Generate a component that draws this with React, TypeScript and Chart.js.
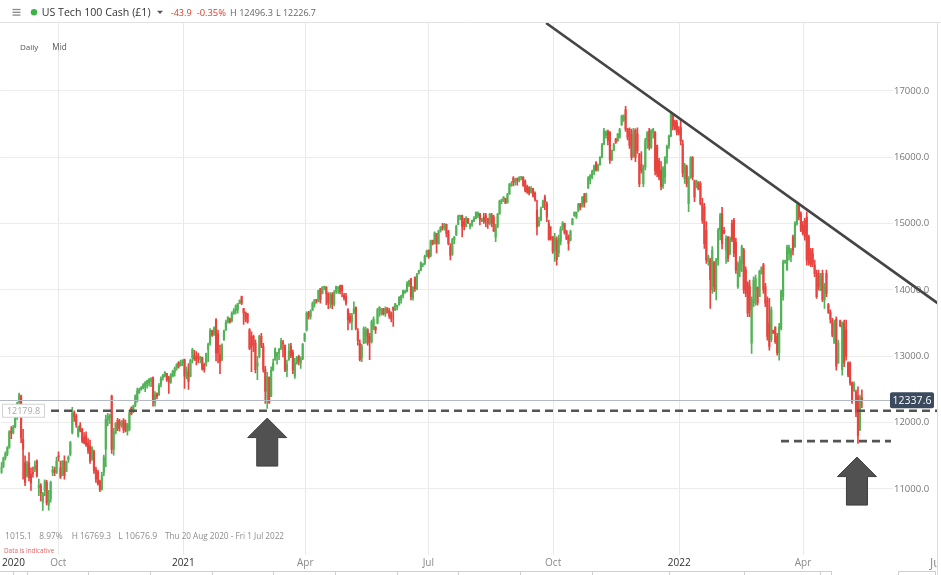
import React, { useEffect, useRef } from 'react';
import { Chart, registerables } from 'chart.js';

Chart.register(...registerables);

const FONT = '"Open Sans", "Noto Sans", sans-serif';
const GREEN = '#52b356';
const RED = '#e8433e';

// Daily candles, each row = [open, high, low, close]
const aug2020 = [
  [11250, 11400, 11235, 11330], [11340, 11480, 11320, 11460], [11470, 11560, 11440, 11530], [11530, 11640, 11500, 11620],
  [11630, 11880, 11610, 11860], [11870, 11940, 11760, 11840], [11850, 11960, 11830, 11930], [11940, 12100, 11920, 12080],
];
const sep2020 = [
  [12090, 12310, 12050, 12290], [12300, 12446, 12200, 12420], [12400, 12415, 11700, 11770], [11750, 11900, 11150, 11600],
  [11400, 11500, 11050, 11100], [11200, 11420, 11180, 11380], [11400, 11550, 11120, 11170], [11220, 11320, 10980, 11090],
  [11250, 11330, 11180, 11230], [11300, 11420, 11260, 11350], [11420, 11440, 11180, 11200], [11020, 11150, 10900, 11060],
  [11050, 11080, 10820, 10940], [10800, 10950, 10677, 10930], [10980, 11140, 10900, 11120], [11100, 11130, 10760, 10790],
  [10760, 10980, 10680, 10840], [10850, 11120, 10800, 11100], [11250, 11340, 11200, 11290], [11290, 11330, 11200, 11250],
  [11250, 11480, 11230, 11420],
];
const oct2020 = [
  [11500, 11560, 11420, 11480], [11320, 11420, 11160, 11180], [11220, 11430, 11200, 11420], [11420, 11500, 11150, 11200],
  [11270, 11420, 11260, 11400], [11440, 11500, 11400, 11480], [11520, 11720, 11500, 11700], [11850, 12230, 11830, 12150],
  [12150, 12180, 12020, 12090], [12100, 12130, 11930, 11970], [11800, 11950, 11780, 11920], [11960, 12000, 11860, 11880],
  [11900, 11913, 11700, 11720], [11780, 11850, 11680, 11700], [11800, 11863, 11640, 11660], [11700, 11760, 11536, 11580],
  [11650, 11737, 11385, 11420], [11450, 11640, 11430, 11620], [11560, 11587, 11235, 11280], [11290, 11330, 11100, 11150],
  [11260, 11285, 11059, 11080], [11120, 11134, 10958, 10990],
];
const nov2020 = [
  [11000, 11250, 10983, 11200], [11250, 11510, 11200, 11480], [11600, 12114, 11335, 12050], [12050, 12140, 11950, 12100],
  [12080, 12130, 11988, 12110], [12400, 12416, 11536, 11600], [11600, 11913, 11511, 11850], [11850, 12000, 11830, 11990],
  [12040, 12064, 11880, 11910], [12010, 12050, 11870, 11960], [11960, 12030, 11930, 12010], [12040, 12060, 11850, 11900],
  [11990, 12040, 11860, 11880], [11870, 11990, 11813, 11970], [11900, 12190, 11880, 12150], [12220, 12240, 12115, 12130],
  [12170, 12265, 12150, 12250], [12260, 12420, 12240, 12400], [12330, 12520, 12310, 12480], [12450, 12520, 12440, 12500],
];
const dec2020 = [
  [12500, 12545, 12490, 12530], [12520, 12590, 12510, 12570], [12540, 12620, 12466, 12600], [12580, 12642, 12520, 12630],
  [12600, 12667, 12550, 12650], [12630, 12680, 12541, 12660], [12680, 12690, 12250, 12340], [12300, 12470, 12250, 12420],
  [12440, 12450, 12360, 12390], [12420, 12590, 12410, 12560], [12580, 12690, 12540, 12660], [12680, 12730, 12640, 12710],
  [12700, 12770, 12690, 12760], [12740, 12745, 12620, 12650], [12680, 12700, 12440, 12610], [12610, 12740, 12590, 12720],
  [12700, 12790, 12690, 12770], [12760, 12840, 12700, 12820], [12830, 12890, 12790, 12880], [12910, 12920, 12820, 12850],
  [12860, 12945, 12850, 12900], [12900, 12950, 12860, 12940],
];
const jan2021 = [
  [12950, 12960, 12516, 12700], [12700, 12840, 12660, 12800], [12760, 12890, 12500, 12620], [12700, 12960, 12690, 12940],
  [12980, 13120, 12900, 13100], [13020, 13090, 12940, 12960], [12990, 13070, 12870, 12940], [13010, 13050, 12900, 12970],
  [12950, 13000, 12900, 12990], [12980, 12990, 12790, 12810], [12880, 12900, 12760, 12800], [12900, 13050, 12850, 13040],
  [13100, 13200, 12920, 13180], [13200, 13420, 13170, 13390], [13390, 13396, 13300, 13320], [13320, 13445, 13320, 13430],
  [13550, 13570, 12930, 13050], [13340, 13395, 12900, 13050], [13030, 13170, 12740, 12920],
];
const feb2021 = [
  [12950, 13190, 12930, 13170], [13250, 13395, 13240, 13380], [13400, 13547, 13390, 13510], [13520, 13597, 13500, 13590],
  [13570, 13575, 13500, 13520], [13530, 13670, 13520, 13650], [13650, 13720, 13630, 13690], [13690, 13775, 13640, 13760],
  [13700, 13800, 13650, 13790], [13800, 13850, 13795, 13845], [13900, 13909, 13780, 13800], [13720, 13723, 13480, 13650],
  [13660, 13672, 13520, 13560], [13640, 13647, 13500, 13520], [13400, 13420, 13100, 13120], [13300, 13371, 12770, 13150],
  [13300, 13320, 13070, 13170], [13200, 13250, 12750, 12800], [12850, 13000, 12650, 12900],
];
const mar2021 = [
  [13000, 13320, 12980, 13300], [13300, 13345, 13130, 13160], [13150, 13195, 12760, 12800], [12800, 12850, 12290, 12470],
  [12480, 12760, 12215, 12690], [12680, 12690, 12290, 12300], [12400, 12840, 12390, 12790], [12800, 12960, 12780, 12900],
  [12950, 13130, 12940, 13110], [13000, 13060, 12880, 13050], [13050, 13120, 12950, 13100], [13120, 13270, 13100, 13230],
  [13200, 13240, 12990, 13190], [13170, 13170, 12770, 12790], [12790, 12943, 12692, 12880], [12950, 13190, 12940, 13080],
  [13150, 13195, 12980, 13010], [13060, 13094, 12740, 12790], [12700, 12968, 12667, 12900], [12900, 13000, 12880, 12980],
  [13000, 13020, 12870, 12930], [12900, 12994, 12817, 12960], [12960, 13195, 12950, 13180],
];
const apr2021 = [
  [13240, 13350, 13220, 13340], [13400, 13672, 13380, 13650], [13660, 13680, 13560, 13600], [13600, 13700, 13560, 13680],
  [13700, 13820, 13690, 13800], [13790, 13860, 13740, 13850], [13840, 13860, 13800, 13835], [13830, 14000, 13820, 13990],
  [14020, 14024, 13800, 13860], [13950, 14050, 13940, 14040], [14040, 14060, 14000, 14050], [14040, 14050, 13780, 13950],
  [13950, 13960, 13720, 13800], [13800, 13960, 13730, 13930], [13930, 13960, 13720, 13780], [13790, 13990, 13760, 13960],
  [13980, 14060, 13950, 14050], [14020, 14050, 13950, 14040], [14060, 14074, 13940, 13970], [14070, 14074, 13900, 13990],
  [13920, 13950, 13848, 13880],
];
const may2021 = [
  [13900, 13950, 13770, 13800], [13700, 13720, 13400, 13550], [13600, 13650, 13500, 13530], [13520, 13650, 13400, 13620],
  [13660, 13820, 13640, 13720], [13740, 13748, 13400, 13420], [13380, 13420, 13170, 13240], [13200, 13250, 12930, 12950],
  [12980, 13180, 12918, 13150], [13200, 13446, 13190, 13420], [13300, 13440, 13200, 13400], [13400, 13420, 13170, 13200],
  [13300, 13345, 12950, 13220], [13220, 13547, 13200, 13520], [13420, 13597, 13400, 13560], [13440, 13450, 13345, 13400],
  [13500, 13723, 13490, 13700], [13700, 13750, 13600, 13740], [13640, 13723, 13620, 13710], [13720, 13723, 13620, 13640],
];
const jun2021 = [
  [13640, 13748, 13600, 13720], [13730, 13730, 13650, 13660], [13680, 13720, 13570, 13600], [13640, 13670, 13520, 13560],
  [13740, 13748, 13450, 13700], [13700, 13800, 13690, 13790], [13750, 13773, 13700, 13770], [13780, 13899, 13770, 13890],
  [13850, 13924, 13800, 13910], [13920, 14000, 13880, 13990], [13960, 14000, 13950, 13980], [13980, 14125, 13970, 14100],
  [14080, 14150, 14050, 14140], [14170, 14175, 13850, 13900], [13880, 14050, 13848, 14040], [14190, 14200, 13980, 14020],
  [14020, 14250, 14000, 14230], [14260, 14300, 14240, 14290], [14300, 14426, 14290, 14410], [14380, 14400, 14350, 14390],
  [14400, 14527, 14380, 14510], [14510, 14602, 14500, 14590],
];
const jul2021 = [
  [14600, 14602, 14477, 14500], [14520, 14753, 14500, 14740], [14750, 14753, 14680, 14700], [14700, 14878, 14690, 14860],
  [14850, 14853, 14560, 14700], [14700, 14903, 14690, 14880], [14890, 14955, 14870, 14940], [14960, 15005, 14900, 14930],
  [14940, 15005, 14900, 14990], [14990, 14995, 14800, 14850], [14880, 14900, 14680, 14700], [14650, 14700, 14452, 14520],
  [14540, 14780, 14520, 14760], [14760, 14804, 14700, 14800], [14830, 14980, 14820, 14960], [14990, 15130, 14980, 15110],
  [15110, 15130, 15060, 15120], [15120, 15130, 14800, 14960], [15040, 15080, 14904, 14960], [14960, 15105, 14950, 15080],
  [15080, 15080, 15000, 15010],
];
const aug2021 = [
  [14960, 15005, 14920, 14990], [14990, 15055, 14960, 15050], [15040, 15105, 15030, 15080], [15080, 15180, 15070, 15170],
  [15120, 15180, 15090, 15160], [15150, 15156, 14980, 15060], [15040, 15080, 15030, 15070], [15100, 15156, 15005, 15030],
  [15120, 15156, 14955, 15090], [15080, 15080, 14930, 15000], [15000, 15156, 14980, 15140], [15120, 15156, 14955, 15000],
  [15100, 15130, 14880, 14890], [14800, 14990, 14728, 14950], [14960, 15156, 14940, 15140], [15150, 15357, 15140, 15340],
  [15340, 15370, 15300, 15360], [15360, 15407, 15330, 15400], [15380, 15382, 15300, 15310], [15320, 15457, 15310, 15440],
  [15450, 15608, 15440, 15590], [15580, 15633, 15560, 15600],
];
const sep2021 = [
  [15690, 15709, 15570, 15620], [15620, 15683, 15580, 15660], [15680, 15690, 15580, 15650], [15650, 15709, 15630, 15690],
  [15690, 15712, 15660, 15700], [15700, 15709, 15560, 15580], [15640, 15660, 15480, 15500], [15560, 15583, 15457, 15480],
  [15540, 15558, 15432, 15460], [15470, 15558, 15460, 15540], [15530, 15533, 15400, 15420], [15460, 15480, 15340, 15360],
  [15200, 15357, 14830, 14950], [14980, 15100, 14960, 15040], [15060, 15250, 15040, 15220], [15250, 15357, 15240, 15340],
  [15400, 15432, 15210, 15330], [15300, 15330, 15030, 15100], [15000, 15050, 14750, 14760], [14800, 14955, 14750, 14780],
  [14800, 14804, 14550, 14580],
];
const oct2021 = [
  [14600, 14854, 14430, 14780], [14750, 14800, 14376, 14460], [14560, 14829, 14502, 14780], [14730, 14955, 14680, 14920],
  [14950, 15030, 14900, 15010], [15000, 15010, 14840, 14860], [14880, 14900, 14760, 14770], [14800, 14830, 14600, 14700],
  [14750, 14905, 14740, 14880], [14990, 15080, 14980, 15070], [15120, 15180, 15110, 15170], [15100, 15180, 15080, 15170],
  [15200, 15306, 15180, 15290], [15300, 15306, 15206, 15250], [15260, 15407, 15250, 15400], [15420, 15457, 15250, 15300],
  [15330, 15460, 15320, 15450],
];
const nov2021 = [
  [15540, 15710, 15530, 15690], [15650, 15740, 15600, 15720], [15700, 15809, 15680, 15790], [15790, 15884, 15740, 15870],
  [15920, 15935, 15790, 15810], [15810, 15900, 15790, 15880], [15890, 16010, 15880, 16000], [16000, 16211, 15990, 16190],
  [16200, 16437, 16190, 16400], [16330, 16400, 16290, 16380], [16400, 16412, 16186, 16250], [16380, 16387, 15910, 15960],
  [15960, 16110, 15950, 16100], [16110, 16211, 16100, 16190], [16280, 16287, 16210, 16220], [16250, 16362, 16240, 16350],
  [16300, 16437, 16290, 16420], [16490, 16638, 16480, 16620], [16560, 16640, 16540, 16630], [16720, 16769, 16390, 16420],
  [16430, 16437, 16261, 16300], [16420, 16445, 16136, 16180], [16350, 16425, 15960, 16000],
];
const dec2021 = [
  [16020, 16437, 16000, 16400], [16410, 16430, 15935, 16000], [16350, 16445, 16060, 16100], [16050, 16060, 15558, 15600],
  [15900, 16085, 15760, 15800], [15600, 15884, 15558, 15850], [15850, 16286, 15809, 16250], [16250, 16387, 16136, 16370],
  [16400, 16437, 16110, 16150], [16150, 16420, 16136, 16400], [16380, 16437, 16287, 16420], [16380, 16387, 15734, 15800],
  [16180, 16186, 15708, 15750], [15950, 15985, 15658, 15700], [15800, 15935, 15507, 15560], [15560, 15859, 15532, 15840],
  [15700, 16010, 15608, 15990], [16000, 16186, 15910, 16170], [16180, 16337, 16136, 16320], [16320, 16663, 16312, 16650],
  [16630, 16638, 16412, 16470], [16540, 16563, 16412, 16430], [16520, 16563, 16337, 16380], [16420, 16462, 16337, 16350],
  [16450, 16563, 16186, 16250],
];
const jan2022 = [
  [16200, 16261, 15708, 15760], [15680, 15910, 15608, 15880], [15860, 15884, 15558, 15600], [15300, 15708, 15180, 15680],
  [15700, 16010, 15683, 15990], [16000, 16010, 15658, 15700], [15650, 15658, 15331, 15400], [15550, 15658, 15540, 15640],
  [15620, 15633, 15507, 15520], [15600, 15633, 15281, 15300], [15300, 15382, 15005, 15050], [15250, 15306, 14628, 14700],
  [14900, 15030, 14401, 14450], [14430, 14527, 14376, 14500], [14450, 14477, 13723, 14150], [14000, 14653, 13949, 14600],
  [14420, 14427, 13974, 14050], [14000, 14477, 13849, 14450], [14450, 14929, 14376, 14900], [14900, 15155, 14754, 15120],
];
const feb2022 = [
  [15150, 15248, 14620, 14700], [14900, 14946, 14845, 14860], [14600, 14820, 14400, 14780], [14800, 14804, 14427, 14480],
  [14550, 14803, 14527, 14780], [15000, 15055, 14728, 14760], [15050, 15080, 14502, 14550], [14720, 14778, 14250, 14300],
  [14050, 14426, 14024, 14400], [14300, 14502, 14200, 14450], [14400, 14678, 14275, 14650], [14600, 14628, 13949, 14000],
  [14300, 14351, 13898, 13950], [14100, 14125, 13597, 13650], [14050, 14150, 13597, 13700], [13200, 13898, 13044, 13850],
  [13800, 14200, 13748, 14150], [14000, 14225, 13773, 14180], [14040, 14049, 13773, 13800], [13900, 14300, 13898, 14280],
  [14250, 14351, 14240, 14340],
];
const mar2022 = [
  [14380, 14401, 13949, 14000], [14050, 14100, 13748, 13800], [13850, 13898, 13245, 13300], [13500, 13873, 13094, 13150],
  [13250, 13748, 13220, 13700], [13390, 13396, 13345, 13350], [13440, 13446, 13195, 13220], [13300, 13345, 13019, 13050],
  [13050, 13496, 12943, 13450], [13420, 13999, 13400, 13980], [13900, 14451, 13848, 14420], [14420, 14451, 14401, 14440],
  [14300, 14678, 14300, 14650], [14550, 14678, 14451, 14640], [14500, 14628, 14426, 14600], [14800, 14829, 14527, 14600],
  [14650, 15030, 14640, 15000], [15000, 15306, 14979, 15280], [15280, 15281, 15055, 15100], [15150, 15180, 14879, 14900],
  [14980, 15030, 14829, 14850], [15050, 15080, 14753, 14800],
];
const apr2022 = [
  [15100, 15180, 14376, 14450], [14800, 14829, 14376, 14400], [14600, 14627, 14351, 14380], [14550, 14627, 14351, 14400],
  [14380, 14450, 14200, 14250], [14250, 14300, 13873, 13900], [14250, 14300, 13999, 14050], [14000, 14250, 13990, 14220],
  [14250, 14300, 13823, 13850], [13850, 14099, 13722, 14050], [14250, 14300, 13898, 13950], [13780, 13798, 13647, 13660],
  [13660, 13700, 13500, 13560], [13550, 13572, 13295, 13320], [13200, 13547, 13195, 13500], [13560, 13597, 12793, 12850],
  [12900, 13245, 12893, 13200], [13540, 13547, 13446, 13460], [12800, 13521, 12717, 13500], [13500, 13547, 12843, 12900],
];
const may2022 = [
  [13400, 13547, 12943, 13000], [12900, 12918, 12692, 12720], [12900, 12918, 12566, 12600], [12600, 12617, 12290, 12320],
  [12480, 12617, 12470, 12590], [12460, 12491, 12089, 12150], [12400, 12541, 11687, 11800], [11900, 12416, 11880, 12380],
  [12380, 12496, 12227, 12338],
];

const candles = [
  ...aug2020, ...sep2020, ...oct2020, ...nov2020, ...dec2020,
  ...jan2021, ...feb2021, ...mar2021, ...apr2021, ...may2021, ...jun2021,
  ...jul2021, ...aug2021, ...sep2021, ...oct2021, ...nov2021, ...dec2021,
  ...jan2022, ...feb2022, ...mar2022, ...apr2022, ...may2022,
];

// x-axis ticks (positions in candle-index space) and their labels
const tickIndex = [6.1, 28.9, 92.4, 154.3, 216.8, 280.2, 344.2, 407.1];
const tickLabels = ['2020', 'Oct', '2021', 'Apr', 'Jul', 'Oct', '2022', 'Apr'];
const priceTicks = [11000, 12000, 13000, 14000, 15000, 16000, 17000];

const lastPrice = 12337.6;
const supportPrice = 12179.8;
const lowPrice = 11722;
const trendIdx = [276.6, 475.6];
const trendVal = [18025, 13798];
const arrowIdx = [135, 434.5];
const arrowVal = [12069, 11481];

const X_MIN = -0.508;
const X_MAX = 452.8;
const Y_MIN = 10005;
const Y_MAX = 18025;

const isYear = (i: number) => /^\d{4}$/.test(tickLabels[i] || '');

function fitText(ctx: any, s: string, x: number, y: number, size: number, width: number, color: string, weight = '400') {
  ctx.font = `${weight} ${size}px ${FONT}`;
  const w = ctx.measureText(s).width;
  let sz = size * (width / w);
  sz = Math.max(size * 0.8, Math.min(size * 1.2, sz));
  ctx.font = `${weight} ${sz}px ${FONT}`;
  ctx.fillStyle = color;
  ctx.textAlign = 'left';
  ctx.textBaseline = 'alphabetic';
  ctx.fillText(s, x, y);
}

function drawArrow(ctx: any, cx: number, tipY: number) {
  const hw = 19.5, hh = 19.5, sw = 10.5, sl = 28.5;
  ctx.beginPath();
  ctx.moveTo(cx, tipY);
  ctx.lineTo(cx + hw, tipY + hh);
  ctx.lineTo(cx + sw, tipY + hh);
  ctx.lineTo(cx + sw, tipY + hh + sl);
  ctx.lineTo(cx - sw, tipY + hh + sl);
  ctx.lineTo(cx - sw, tipY + hh);
  ctx.lineTo(cx - hw, tipY + hh);
  ctx.closePath();
  ctx.fillStyle = '#515151';
  ctx.fill();
  ctx.strokeStyle = '#3e3e3e';
  ctx.lineWidth = 1;
  ctx.stroke();
}

const overlay = {
  id: 'overlay',
  afterDatasetsDraw(chart: any) {
    const { ctx, chartArea } = chart;
    const xs = chart.scales.x;
    const ys = chart.scales.y;
    ctx.save();

    // last price line
    const yLast = Math.round(ys.getPixelForValue(lastPrice)) + 0.5;
    ctx.strokeStyle = '#b4bac3';
    ctx.lineWidth = 1;
    ctx.beginPath();
    ctx.moveTo(0, yLast);
    ctx.lineTo(890, yLast);
    ctx.stroke();

    // dashed support lines
    ctx.strokeStyle = '#545454';
    ctx.lineWidth = 2.6;
    ctx.setLineDash([8, 5]);
    const ySup = ys.getPixelForValue(supportPrice);
    ctx.beginPath();
    ctx.moveTo(51, ySup);
    ctx.lineTo(937, ySup);
    ctx.stroke();
    const yLow = ys.getPixelForValue(lowPrice);
    ctx.beginPath();
    ctx.moveTo(781, yLow);
    ctx.lineTo(891, yLow);
    ctx.stroke();
    ctx.setLineDash([]);

    // trend line
    ctx.save();
    ctx.beginPath();
    ctx.rect(0, chartArea.top, 938, chartArea.bottom - chartArea.top);
    ctx.clip();
    ctx.strokeStyle = '#454545';
    ctx.lineWidth = 2.6;
    ctx.beginPath();
    ctx.moveTo(xs.getPixelForValue(trendIdx[0]), ys.getPixelForValue(trendVal[0]));
    ctx.lineTo(xs.getPixelForValue(trendIdx[1]), ys.getPixelForValue(trendVal[1]));
    ctx.stroke();
    ctx.restore();

    // arrows
    for (let k = 0; k < arrowIdx.length; k++) {
      drawArrow(ctx, xs.getPixelForValue(arrowIdx[k]), ys.getPixelForValue(arrowVal[k]));
    }
    ctx.restore();
  },
  afterDraw(chart: any) {
    const { ctx } = chart;
    const ys = chart.scales.y;
    ctx.save();

    // header
    ctx.strokeStyle = '#e2e2e2';
    ctx.lineWidth = 1;
    ctx.beginPath();
    ctx.moveTo(0, 22.5);
    ctx.lineTo(941, 22.5);
    ctx.stroke();
    ctx.strokeStyle = '#8a8a8a';
    ctx.lineWidth = 1.3;
    for (const yy of [9.5, 12.3, 15.1]) {
      ctx.beginPath();
      ctx.moveTo(12.5, yy);
      ctx.lineTo(20.5, yy);
      ctx.stroke();
    }
    ctx.fillStyle = '#3fb24a';
    ctx.beginPath();
    ctx.arc(34, 12.3, 3.2, 0, Math.PI * 2);
    ctx.fill();
    fitText(ctx, 'US Tech 100 Cash (£1)', 41.7, 16, 11, 109, '#333333', '500');
    ctx.fillStyle = '#555';
    ctx.beginPath();
    ctx.moveTo(157, 10.8);
    ctx.lineTo(163, 10.8);
    ctx.lineTo(160, 14);
    ctx.closePath();
    ctx.fill();
    fitText(ctx, '-43.9', 170.7, 16, 11, 21, '#e0392b');
    fitText(ctx, '-0.35%', 196.7, 16, 11, 29.3, '#e0392b');
    fitText(ctx, 'H 12496.3', 230, 16, 11, 43, '#666666');
    fitText(ctx, 'L 12226.7', 276, 16, 11, 40, '#666666');

    fitText(ctx, 'Daily', 20, 50, 10, 18.3, '#555555');
    fitText(ctx, 'Mid', 52.3, 50, 10, 14.4, '#555555');

    // bottom info
    fitText(ctx, '1015.1', 5, 539.3, 9, 26.7, '#8c8c8c');
    fitText(ctx, '8.97%', 39.3, 539.3, 9, 23.4, '#8c8c8c');
    fitText(ctx, 'H 16769.3', 71.7, 539.3, 9, 39.3, '#8c8c8c');
    fitText(ctx, 'L 10676.9', 118.3, 539.3, 9, 39, '#8c8c8c');
    fitText(ctx, 'Thu 20 Aug 2020 - Fri 1 Jul 2022', 165, 539.3, 9, 119.3, '#8c8c8c');
    fitText(ctx, 'Data is Indicative', 4, 553, 7, 50.3, '#e06a6a');

    // clipped "Jul" label at right edge
    ctx.save();
    ctx.beginPath();
    ctx.rect(900, 550, 36.5, 25);
    ctx.clip();
    fitText(ctx, 'Jul', 930, 566.7, 10, 14, '#8a8a8a');
    ctx.restore();

    // bottom navigator line
    ctx.strokeStyle = '#cfcfcf';
    ctx.lineWidth = 1;
    ctx.beginPath();
    ctx.moveTo(0, 571.5);
    ctx.lineTo(832, 571.5);
    ctx.stroke();
    for (const tx of [13, 27, 88, 150, 212, 273, 335, 397, 458, 520, 592, 669, 744, 820, 831]) {
      ctx.beginPath();
      ctx.moveTo(tx + 0.5, 571.5);
      ctx.lineTo(tx + 0.5, 575);
      ctx.stroke();
    }
    ctx.strokeRect(898.5, 571.5, 37, 5);

    // right frame line
    ctx.strokeStyle = '#dcdcdc';
    ctx.beginPath();
    ctx.moveTo(937.5, 23);
    ctx.lineTo(937.5, 575);
    ctx.stroke();

    // left label box for support level
    const ySup = ys.getPixelForValue(supportPrice);
    ctx.fillStyle = '#ffffff';
    ctx.fillRect(2.5, ySup - 6.5, 42, 13);
    ctx.strokeStyle = '#d3d3d3';
    ctx.strokeRect(2.5, ySup - 6.5, 42, 13);
    ctx.fillStyle = '#a8a8a8';
    ctx.font = `400 9px ${FONT}`;
    ctx.textAlign = 'center';
    ctx.textBaseline = 'middle';
    ctx.fillText('12179.8', 23.5, ySup + 0.5);

    // last price label
    const yLast = ys.getPixelForValue(lastPrice);
    ctx.fillStyle = '#3b4a5e';
    ctx.beginPath();
    ctx.roundRect(890, yLast - 8, 44, 16, 2);
    ctx.fill();
    ctx.fillStyle = '#ffffff';
    ctx.font = `500 10.5px ${FONT}`;
    ctx.textAlign = 'center';
    ctx.textBaseline = 'middle';
    ctx.fillText('12337.6', 912, yLast + 0.5);

    ctx.restore();
  },
};

export default function App() {
  const ref = useRef<HTMLCanvasElement>(null);
  useEffect(() => {
    document.body.style.margin = '0';
    const canvas = ref.current as HTMLCanvasElement;
    const colors = candles.map((c) => (c[3] >= c[0] ? GREEN : RED));
    const chart = new Chart(canvas, {
      type: 'bar',
      data: {
        datasets: [
          {
            label: 'wick',
            data: candles.map((c, i) => ({ x: i, y: [c[2], c[1]] })) as any,
            backgroundColor: colors,
            barThickness: 1,
            grouped: false,
            borderWidth: 0,
          } as any,
          {
            label: 'body',
            data: candles.map((c, i) => ({ x: i, y: [c[0], c[3]] })) as any,
            backgroundColor: colors,
            barThickness: 1.5,
            grouped: false,
            minBarLength: 1,
            borderWidth: 0,
          } as any,
        ],
      },
      options: {
        responsive: false,
        animation: false,
        devicePixelRatio: 1,
        events: [],
        layout: { padding: { top: 23, left: 0, right: 0, bottom: 0 } },
        plugins: { legend: { display: false }, tooltip: { enabled: false } },
        scales: {
          x: {
            type: 'linear',
            min: X_MIN,
            max: X_MAX,
            offset: false,
            border: { display: false },
            grid: {
              offset: false,
              color: (c: any) => (c.index === 0 ? 'rgba(0,0,0,0)' : '#e9e9e9'),
              drawTicks: false,
              lineWidth: 1,
            },
            afterBuildTicks: (s: any) => {
              s.ticks = tickIndex.map((v) => ({ value: v }));
            },
            afterFit: (s: any) => {
              s.height = 20;
            },
            ticks: {
              autoSkip: false,
              maxRotation: 0,
              minRotation: 0,
              padding: 2,
              callback: (_v: any, i: number) => tickLabels[i],
              color: (c: any) => (isYear(c.index) ? '#2e2e2e' : '#8a8a8a'),
              font: (c: any) => ({ family: FONT, size: 10, weight: isYear(c.index) ? '500' : '400' }),
            },
          },
          y: {
            type: 'linear',
            position: 'right',
            min: Y_MIN,
            max: Y_MAX,
            border: { display: false },
            grid: { color: '#ececec', drawTicks: false },
            afterBuildTicks: (s: any) => {
              s.ticks = priceTicks.map((v) => ({ value: v }));
            },
            afterFit: (s: any) => {
              s.width = 48;
            },
            ticks: {
              padding: 1,
              color: '#777777',
              font: { family: FONT, size: 9.5 },
              callback: (v: any) => Number(v).toFixed(1),
            },
          },
        },
      } as any,
      plugins: [overlay],
    });
    return () => chart.destroy();
  }, []);
  return (
    <div style={{ width: 941, height: 575, position: 'relative', overflow: 'hidden', background: '#fff' }}>
      <canvas ref={ref} width={941} height={575} style={{ display: 'block' }} />
    </div>
  );
}
